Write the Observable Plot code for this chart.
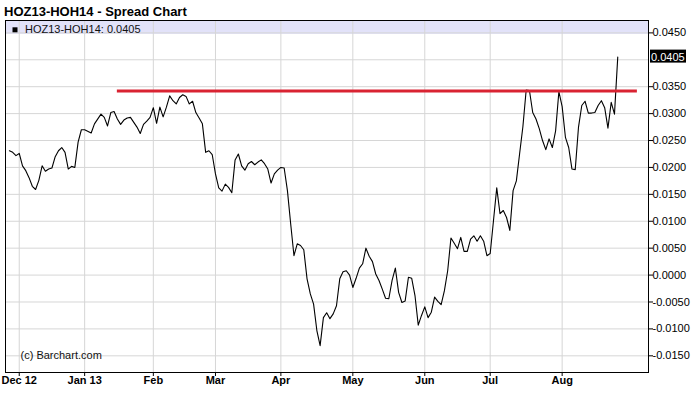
<!DOCTYPE html>
<html>
<head>
<meta charset="utf-8">
<script src="https://cdn.jsdelivr.net/npm/d3@7"></script>
<script src="https://cdn.jsdelivr.net/npm/@observablehq/plot@0.6"></script>
<style>
  html, body { margin: 0; padding: 0; background: #fff; }
  #wrap { position: relative; width: 696px; height: 395px; }
  #title { position: absolute; left: 4px; top: 4px; font: bold 13px "Liberation Sans", Arial, sans-serif; line-height: 16px; color: #000; }
</style>
</head>
<body>
<div id="wrap"><div id="title">HOZ13-HOH14 - Spread Chart</div></div>
<script>
// ---- data (trading-day index counted from Dec 3 2012, spread value) ----
const seriesName = "HOZ13-HOH14";
const days = [
  -3,-2,-1,0,1,2,3,4,5,6,7,8,9,10,11,12,13,14,15,16,17,18,19,20,22,23,25,26,27,28,
  29,30,31,32,33,34,36,37,38,39,40,41,42,43,44,45,46,47,48,49,50,51,52,53,54,55,56,57,58,59,
  60,61,62,63,64,65,66,67,68,69,70,71,72,73,74,75,76,77,78,79,80,81,82,83,84,85,86,87,88,89,
  90,91,92,93,94,95,96,97,98,99,100,101,102,103,104,105,106,107,108,109,110,111,112,113,114,115,116,117,118,119,
  120,121,122,123,124,125,126,127,128,129,130,131,132,133,134,135,136,137,138,139,140,141,142,143,144,145,146,147,148,149,
  150,151,152,153,154,155,156,157,158,159,160,161,162,163,164,165,166,167,168,169,170,171,172,173,174,175,176,177,178,179,
  180,181,182,183
];
const spread = [
  0.0231,0.0228,0.0222,0.0226,0.0203,0.0194,0.0181,0.0165,0.0159,0.0176,0.0203,0.0193,0.0197,0.0199,0.0220,0.0231,0.0237,0.0228,0.0197,0.0202,0.0200,0.0247,0.0270,0.0270,0.0264,0.0281,0.0299,0.0293,0.0277,0.0302,
  0.0304,0.0290,0.0280,0.0288,0.0292,0.0293,0.0275,0.0263,0.0280,0.0286,0.0293,0.0311,0.0282,0.0312,0.0294,0.0312,0.0333,0.0324,0.0318,0.0330,0.0335,0.0332,0.0318,0.0323,0.0302,0.0292,0.0281,0.0228,0.0231,0.0224,
  0.0188,0.0162,0.0156,0.0169,0.0163,0.0153,0.0214,0.0225,0.0203,0.0195,0.0207,0.0211,0.0205,0.0210,0.0214,0.0207,0.0197,0.0171,0.0188,0.0195,0.0200,0.0199,0.0157,0.0095,0.0036,0.0058,0.0055,0.0047,-0.0007,-0.0035,
  -0.0054,-0.0103,-0.0131,-0.0079,-0.0070,-0.0081,-0.0072,-0.0057,-0.0007,0.0006,0.0008,0.0000,-0.0023,-0.0006,0.0013,0.0021,0.0050,0.0035,0.0025,0.0002,-0.0010,-0.0026,-0.0043,-0.0044,-0.0010,0.0013,-0.0032,-0.0051,-0.0048,-0.0004,
  -0.0006,-0.0038,-0.0093,-0.0075,-0.0059,-0.0079,-0.0069,-0.0041,-0.0049,-0.0055,-0.0029,0.0008,0.0069,0.0059,0.0049,0.0070,0.0044,0.0044,0.0067,0.0073,0.0063,0.0073,0.0063,0.0036,0.0040,0.0101,0.0162,0.0114,0.0120,0.0107,
  0.0083,0.0157,0.0175,0.0226,0.0276,0.0344,0.0343,0.0302,0.0290,0.0272,0.0250,0.0233,0.0253,0.0237,0.0268,0.0341,0.0313,0.0256,0.0237,0.0197,0.0196,0.0275,0.0315,0.0323,0.0301,0.0301,0.0302,0.0315,0.0324,0.0311,
  0.0273,0.0321,0.0299,0.0405
];
const monthDays = [0, 20, 41, 60, 80, 102, 124, 144, 166];
const monthLabels = ["Dec 12", "Jan 13", "Feb", "Mar", "Apr", "May", "Jun", "Jul", "Aug"];
const yTicks = [-0.015, -0.010, -0.005, 0.000, 0.005, 0.010, 0.015, 0.020, 0.025, 0.030, 0.035, 0.040, 0.045];
const resistanceValue = 0.0342;
const resistanceFrom = 30;
const resistanceTo = 189;

const data = days.map((d, i) => ({day: d, value: spread[i]}));
const last = data[data.length - 1];
const fmt = v => v.toFixed(4);
// the last-value badge sits over the 0.0400 tick label, so that label is not drawn
const yLabelTicks = yTicks.filter(t => Math.abs(t - 0.040) > 1e-9);

const FONT = "'Liberation Sans', Arial, sans-serif";

function legendBand(index, scales, values, dims) {
  const g = d3.create("svg:g");
  const x0 = dims.marginLeft, w = dims.width - dims.marginLeft - dims.marginRight;
  g.append("rect").attr("x", x0).attr("y", dims.marginTop + 1).attr("width", w).attr("height", 13).attr("fill", "#e2e2f9");
  return g.node();
}
function legendText(index, scales, values, dims) {
  const g = d3.create("svg:g").attr("text-anchor", "start");
  const x0 = dims.marginLeft;
  g.append("rect").attr("x", x0 + 7.5).attr("y", dims.marginTop + 7.3).attr("width", 5).attr("height", 5).attr("fill", "#000");
  g.append("text").attr("x", x0 + 20).attr("y", dims.marginTop + 13.3)
    .attr("text-anchor", "start")
    .attr("font-family", FONT).attr("font-size", 11).attr("fill", "#111")
    .text(`${seriesName}: ${fmt(last.value)}`);
  return g.node();
}
function lastValueBox(index, scales, values, dims) {
  const g = d3.create("svg:g").attr("text-anchor", "start");
  const y = scales.y(last.value);
  const x = dims.width - dims.marginRight + 2;
  g.append("rect").attr("x", x).attr("y", y - 7).attr("width", 36).attr("height", 13).attr("fill", "#000");
  g.append("text").attr("x", x + 1).attr("y", y + 4)
    .attr("text-anchor", "start")
    .attr("font-family", FONT).attr("font-size", 11).attr("fill", "#fff")
    .text(fmt(last.value));
  return g.node();
}

const chart = Plot.plot({
  width: 696,
  height: 395,
  marginTop: 20,
  marginBottom: 23,
  marginLeft: 5,
  marginRight: 48,
  style: {background: "white", color: "black", fontFamily: FONT, fontSize: "11px", overflow: "visible"},
  x: {type: "linear", domain: [-4.2, 192.4], axis: null},
  y: {domain: [-0.0181, 0.0473], axis: null},
  marks: [
    legendBand,
    Plot.gridY(yTicks, {stroke: "#d6d6d6", strokeOpacity: 1}),
    Plot.gridX(monthDays, {stroke: "#d6d6d6", strokeOpacity: 1}),
    Plot.line(data, {x: "day", y: "value", stroke: "#000", strokeWidth: 1.1}),
    Plot.ruleY([resistanceValue], {x1: resistanceFrom, x2: resistanceTo, stroke: "#d92332", strokeWidth: 3}),
    Plot.frame({stroke: "#000"}),
    Plot.axisY(yLabelTicks, {anchor: "right", label: null, tickSize: 4, tickPadding: 0, tickFormat: fmt, fontSize: 11, textAnchor: "start"}),
    Plot.axisX(monthDays, {anchor: "bottom", label: null, tickSize: 4, tickPadding: 0, tickFormat: (d, i) => monthLabels[i], fontSize: 11, fontWeight: "bold"}),
    Plot.text(["(c) Barchart.com"], {frameAnchor: "bottom-left", dx: 15, dy: -14, textAnchor: "start", fontSize: 11, fill: "#111"}),
    legendText,
    lastValueBox
  ]
});
document.getElementById("wrap").prepend(chart);
</script>
</body>
</html>
